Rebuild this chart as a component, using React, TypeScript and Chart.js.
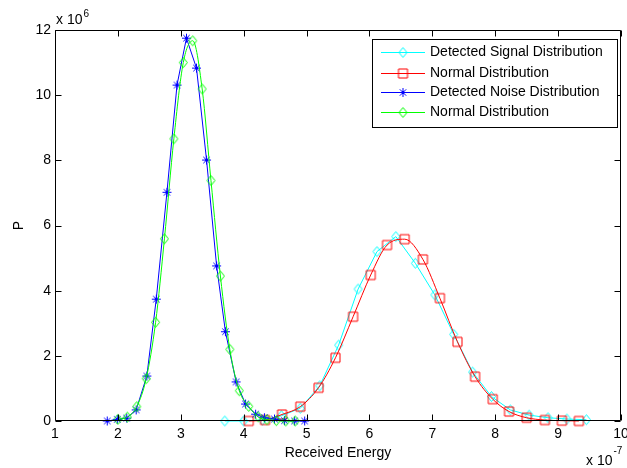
import { useEffect, useRef } from 'react';
import { Chart, registerables } from 'chart.js';

Chart.register(...registerables);

// x in units of 1e-7, y in units of 1e6
const signalX = [3.70, 4.00, 4.30, 4.60, 4.90, 5.21, 5.51, 5.82, 6.12, 6.42, 6.73, 7.04, 7.34, 7.64, 7.94, 8.24, 8.54, 8.84, 9.14, 9.45];
const signalY = [0.0, 0.0, 0.03, 0.16, 0.39, 1.08, 2.33, 4.05, 5.2, 5.66, 4.84, 3.87, 2.66, 1.5, 0.75, 0.34, 0.18, 0.1, 0.06, 0.04];

const signalFitX = [4.08, 4.34, 4.61, 4.90, 5.19, 5.46, 5.74, 6.02, 6.28, 6.56, 6.85, 7.12, 7.40, 7.68, 7.96, 8.22, 8.50, 8.79, 9.06, 9.33];
const signalFitY = [0.0, 0.03, 0.2, 0.44, 1.02, 1.94, 3.2, 4.48, 5.4, 5.58, 4.96, 3.77, 2.43, 1.36, 0.67, 0.29, 0.1, 0.03, 0.01, 0.0];

const noiseX = [1.83, 1.99, 2.14, 2.29, 2.46, 2.61, 2.78, 2.94, 3.09, 3.25, 3.41, 3.57, 3.71, 3.88, 4.03, 4.19, 4.33, 4.49, 4.65, 4.81, 4.97];
const noiseY = [0.0, 0.05, 0.09, 0.34, 1.38, 3.74, 7.02, 10.31, 11.75, 10.83, 8.01, 4.76, 2.74, 1.2, 0.52, 0.21, 0.1, 0.06, 0.01, 0.0, 0.0];

const noiseFitX = [2.00, 2.15, 2.30, 2.45, 2.60, 2.74, 2.89, 3.04, 3.19, 3.34, 3.48, 3.63, 3.78, 3.93, 4.08, 4.23, 4.37, 4.52, 4.67, 4.82];
const noiseFitY = [0.05, 0.12, 0.44, 1.3, 3.03, 5.59, 8.66, 11.0, 11.67, 10.19, 7.38, 4.45, 2.2, 0.93, 0.45, 0.13, 0.04, 0.01, 0.0, 0.0];

const xTicks = [1, 2, 3, 4, 5, 6, 7, 8, 9, 10];
const yTicks = [0, 2, 4, 6, 8, 10, 12];

const legendLabels = [
  'Detected Signal Distribution',
  'Normal Distribution',
  'Detected Noise Distribution',
  'Normal Distribution',
];
const xTitle = 'Received Energy';
const yTitle = 'P';

const FONT = '"Liberation Sans", Arial, sans-serif';

const zip = (xs: number[], ys: number[]) => xs.map((x, i) => ({ x, y: ys[i] }));

type Kind = 'diamond' | 'square' | 'star';

function makeMarker(kind: Kind, color: string): HTMLCanvasElement {
  const c = document.createElement('canvas');
  const size = 13;
  c.width = size;
  c.height = size;
  const g = c.getContext('2d')!;
  g.strokeStyle = color;
  g.lineWidth = 1;
  const m = size / 2;
  g.beginPath();
  if (kind === 'diamond') {
    g.moveTo(m, m - 5);
    g.lineTo(m + 4, m);
    g.lineTo(m, m + 5);
    g.lineTo(m - 4, m);
    g.closePath();
  } else if (kind === 'square') {
    g.rect(2, 2, 9, 9);
  } else {
    g.moveTo(m - 4.5, m);
    g.lineTo(m + 4.5, m);
    g.moveTo(m, m - 4.5);
    g.lineTo(m, m + 4.5);
    g.moveTo(m - 3.2, m - 3.2);
    g.lineTo(m + 3.2, m + 3.2);
    g.moveTo(m + 3.2, m - 3.2);
    g.lineTo(m - 3.2, m + 3.2);
  }
  g.stroke();
  return c;
}

export default function App() {
  const ref = useRef<HTMLCanvasElement | null>(null);

  useEffect(() => {
    document.body.style.margin = '0';
    const canvas = ref.current;
    if (!canvas) return;

    const colors = ['#00FFFF', '#FF0000', '#0000FF', '#00FF00'];
    const kinds: Kind[] = ['diamond', 'square', 'star', 'diamond'];
    const markers = kinds.map((k, i) => makeMarker(k, colors[i]));

    const framePlugin = {
      id: 'matlabFrame',
      afterDraw(chart: any) {
        const { ctx, chartArea } = chart;
        const { left, right, top, bottom } = chartArea;
        const xs = chart.scales.x;
        const ys = chart.scales.y;
        ctx.save();
        ctx.strokeStyle = '#000';
        ctx.lineWidth = 1;
        const L = Math.round(left) + 0.5;
        const R = Math.round(right) - 0.5;
        const T = Math.round(top) + 0.5;
        const B = Math.round(bottom) - 0.5;
        ctx.beginPath();
        ctx.rect(L, T, R - L, B - T);
        ctx.stroke();
        const tl = 6;
        ctx.beginPath();
        xTicks.forEach((v) => {
          const px = Math.round(xs.getPixelForValue(v)) + 0.5;
          ctx.moveTo(px, B);
          ctx.lineTo(px, B - tl);
          ctx.moveTo(px, T);
          ctx.lineTo(px, T + tl);
        });
        yTicks.forEach((v) => {
          const py = Math.round(ys.getPixelForValue(v)) + 0.5;
          ctx.moveTo(L, py);
          ctx.lineTo(L + tl, py);
          ctx.moveTo(R, py);
          ctx.lineTo(R - tl, py);
        });
        ctx.stroke();

        // exponent labels
        ctx.fillStyle = '#000';
        ctx.textBaseline = 'alphabetic';
        ctx.textAlign = 'left';
        ctx.font = `14px ${FONT}`;
        ctx.fillText('x 10', 56, 24);
        const w1 = ctx.measureText('x 10').width;
        ctx.font = `10px ${FONT}`;
        ctx.fillText('6', 56 + w1 + 1, 17);
        ctx.font = `14px ${FONT}`;
        ctx.fillText('x 10', 586, 465);
        const w2 = ctx.measureText('x 10').width;
        ctx.font = `10px ${FONT}`;
        ctx.fillText('-7', 586 + w2 + 1, 454);

        // axis titles
        ctx.font = `14px ${FONT}`;
        ctx.textAlign = 'center';
        ctx.textBaseline = 'middle';
        ctx.fillText(xTitle, (left + right) / 2, 453);
        ctx.save();
        ctx.translate(19, (top + bottom) / 2);
        ctx.rotate(-Math.PI / 2);
        ctx.fillText(yTitle, 0, 0);
        ctx.restore();

        // legend
        const bx = 372.5, by = 39.5, bw = 245, bh = 88;
        ctx.fillStyle = '#fff';
        ctx.fillRect(bx, by, bw, bh);
        ctx.strokeStyle = '#000';
        ctx.strokeRect(bx, by, bw, bh);
        const rows = [52, 73, 92, 112];
        legendLabels.forEach((label, i) => {
          const yy = rows[i] + 0.5;
          ctx.strokeStyle = colors[i];
          ctx.lineWidth = 1;
          ctx.beginPath();
          ctx.moveTo(381, yy);
          ctx.lineTo(425, yy);
          ctx.stroke();
          const mk = markers[i];
          ctx.drawImage(mk, 403 - mk.width / 2, yy - mk.height / 2);
          ctx.fillStyle = '#000';
          ctx.font = `14px ${FONT}`;
          ctx.textAlign = 'left';
          ctx.textBaseline = 'middle';
          ctx.fillText(label, 430, yy);
        });
        ctx.restore();
      },
    };

    const mk = (label: string, xs: number[], ys: number[], i: number, smooth: boolean, order: number) => ({
      label,
      data: zip(xs, ys),
      borderColor: colors[i],
      backgroundColor: 'rgba(0,0,0,0)',
      pointBorderColor: colors[i],
      pointBackgroundColor: 'rgba(0,0,0,0)',
      pointStyle: markers[i],
      pointRadius: 5,
      pointBorderWidth: 1,
      borderWidth: 1,
      showLine: true,
      fill: false,
      clip: false as any,
      order,
      cubicInterpolationMode: smooth ? 'monotone' : 'default',
      tension: 0,
    });

    const chart = new Chart(canvas, {
      type: 'scatter',
      data: {
        datasets: [
          mk(legendLabels[0], signalX, signalY, 0, false, 3),
          mk(legendLabels[1], signalFitX, signalFitY, 1, true, 2),
          mk(legendLabels[2], noiseX, noiseY, 2, false, 1),
          mk(legendLabels[3], noiseFitX, noiseFitY, 3, true, 0),
        ] as any,
      },
      options: {
        animation: false,
        responsive: false,
        maintainAspectRatio: false,
        layout: { padding: { left: 0, right: 5, top: 30, bottom: 0 } },
        plugins: {
          legend: { display: false },
          tooltip: { enabled: false },
        },
        scales: {
          x: {
            type: 'linear',
            min: 1,
            max: 10,
            afterFit: (s: any) => {
              s.height = 47;
              s.paddingRight = 0;
              s.paddingLeft = 0;
            },
            afterBuildTicks: (s: any) => {
              s.ticks = xTicks.map((v) => ({ value: v }));
            },
            grid: { display: false, drawTicks: false },
            border: { display: false },
            ticks: {
              padding: 5,
              color: '#000',
              font: { family: FONT, size: 14 },
              maxRotation: 0,
              autoSkip: false,
              callback: (v: any) => String(v),
            },
          },
          y: {
            type: 'linear',
            min: 0,
            max: 12,
            afterFit: (s: any) => {
              s.width = 55;
            },
            afterBuildTicks: (s: any) => {
              s.ticks = yTicks.map((v) => ({ value: v }));
            },
            grid: { display: false, drawTicks: false },
            border: { display: false },
            ticks: {
              padding: 4,
              color: '#000',
              font: { family: FONT, size: 14 },
              autoSkip: false,
              callback: (v: any) => String(v),
            },
          },
        },
      },
      plugins: [framePlugin],
    });

    return () => chart.destroy();
  }, []);

  return (
    <div style={{ width: 627, height: 468, background: '#fff' }}>
      <canvas ref={ref} width={627} height={468} style={{ display: 'block' }} />
    </div>
  );
}
